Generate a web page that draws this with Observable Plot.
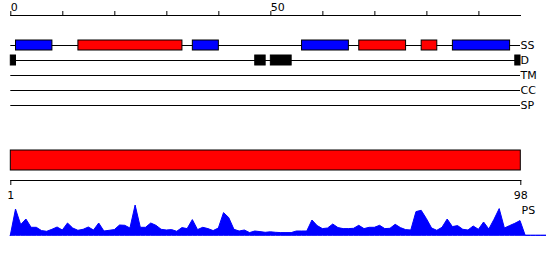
<!DOCTYPE html>
<html><head><meta charset="utf-8">
<script src="https://cdn.jsdelivr.net/npm/d3@7"></script>
<script src="https://cdn.jsdelivr.net/npm/@observablehq/plot@0.6"></script>
<style>
body{margin:0;background:#fff;}
#chart{position:relative;width:550px;height:260px;}
#chart svg{position:absolute;left:0;}
</style></head><body><div id="chart"></div>
<script>
// ---- data ----
const posDomain = [0, 98];
const topTicks = [0, 10, 20, 30, 40, 50, 60, 70, 80, 90];
const topLabels = [0, 50];
const tracks = ["SS", "D", "TM", "CC", "SP"];
const ssStart = [1, 13, 35, 56, 67, 79, 85];
const ssEnd   = [8, 33, 40, 65, 76, 82, 96];
const ssType  = ["E", "H", "E", "E", "H", "H", "E"];
const dStart = [0, 47, 50, 97];
const dEnd   = [1, 49, 54, 98];
const seqRange = [1, 98];
const bottomTicks = [1, 98];
const psLabel = "PS";
const ps = [0, 26.3, 10.7, 16.3, 8, 8, 4.7, 4, 6, 8.3,
  5.3, 12.3, 7.3, 5, 6, 8.3, 5.3, 12.3, 4.3, 5,
  5.7, 10.3, 10, 7.3, 30.3, 8, 8, 12.3, 10, 6,
  5.3, 5.7, 4, 7.7, 6.7, 15.7, 5.7, 8, 6.7, 4.7,
  7.3, 22.7, 17.7, 6, 4.3, 5.3, 2.7, 4.3, 3.7, 3,
  3.5, 3, 2.7, 2.7, 2.7, 4.3, 4.3, 4.3, 15.3, 9.7,
  6.7, 7.3, 11.3, 7.7, 6.7, 6.7, 7, 10, 6.7, 8,
  8, 10, 6.7, 7, 11, 7.7, 5.7, 5.3, 23.7, 25,
  16.7, 7.3, 5, 8, 16.3, 8.7, 9.7, 6, 5.3, 9.3,
  6, 13.3, 6.3, 16, 26.7, 7.3, 9.7, 12, 14.7, 0,
  0, 0, 0, 0];

// ---- tables ----
const features = [
  ...ssStart.map((s, i) => ({track: "SS", start: s, end: ssEnd[i], type: ssType[i]})),
  ...dStart.map((s, i) => ({track: "D", start: s, end: dEnd[i], type: "D"}))
];

const baseStyle = {fontFamily: "DejaVu Sans", fontSize: "11px", background: "transparent", overflow: "visible", color: "#000"};

const trackPlot = Plot.plot({
  width: 550, height: 115,
  marginTop: 15, marginBottom: 0, marginLeft: 10.3, marginRight: 30,
  style: baseStyle,
  x: {domain: posDomain, axis: "top", ticks: topTicks, tickSize: 5, tickFormat: () => "", line: true},
  y: {type: "band", domain: tracks, range: [37.5, 112.5], paddingInner: 1/3, paddingOuter: 1/6, axis: null},
  color: {domain: ["H", "E", "D"], range: ["#ff0000", "#0000ff", "#000000"]},
  marks: [
    Plot.ruleY(tracks, {y: d => d, x1: () => posDomain[0], x2: () => posDomain[1], stroke: "#000"}),
    Plot.barX(features, {x1: "start", x2: "end", y: "track", fill: "type", stroke: "#000", strokeWidth: 1}),
    Plot.text(tracks, {y: d => d, x: () => posDomain[1], text: d => d, textAnchor: "start", dx: 0}),
    Plot.text(topLabels, {x: d => d, text: d => String(d), frameAnchor: "top", textAnchor: "start", lineAnchor: "bottom", dy: -5, dx: 0})
  ]
});
trackPlot.style.top = "0px";

const seqPlot = Plot.plot({
  width: 550, height: 65,
  marginTop: 10, marginBottom: 25, marginLeft: 10.3, marginRight: 29.7,
  style: baseStyle,
  x: {domain: seqRange, ticks: bottomTicks, tickSize: 5, tickPadding: 6, line: true, tickFormat: d => String(d)},
  marks: [
    Plot.rect([seqRange], {x1: d => d[0], x2: d => d[1], fill: "#ff0000", stroke: "#000", insetBottom: 10})
  ]
});
seqPlot.style.top = "140px";

const psPlot = Plot.plot({
  width: 550, height: 65,
  marginTop: 10, marginBottom: 24.7, marginLeft: 10.3, marginRight: 30,
  style: baseStyle,
  x: {domain: posDomain, axis: null},
  y: {domain: [0, d3.max(ps)], axis: null},
  marks: [
    Plot.areaY(ps, {x: (d, i) => i, y: d => d, fill: "#0000ff", stroke: "#0000ff", strokeWidth: 1}),
    Plot.text([psLabel], {frameAnchor: "top-right", text: d => d, textAnchor: "start", lineAnchor: "top", dx: 1, dy: 1})
  ]
});
psPlot.style.top = "195px";

const c = document.getElementById("chart");
c.append(trackPlot, seqPlot, psPlot);
</script>
</body></html>
